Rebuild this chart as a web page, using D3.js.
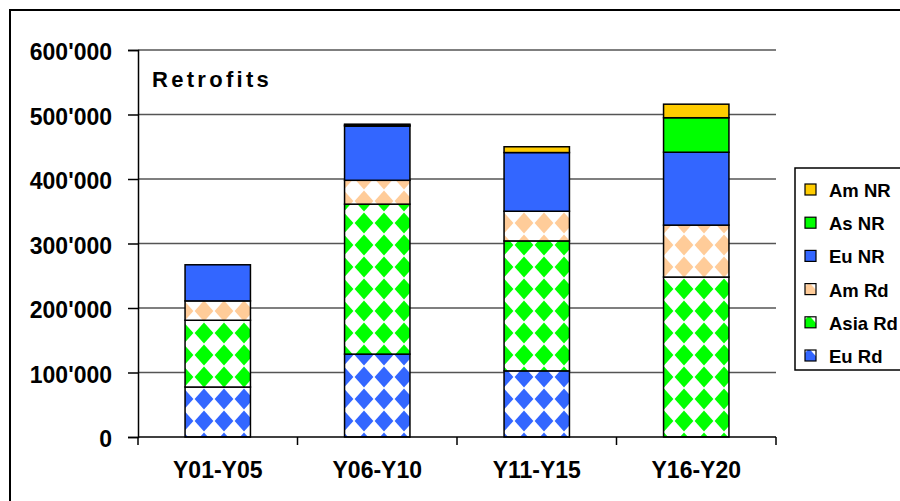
<!DOCTYPE html>
<html>
<head>
<meta charset="utf-8">
<script src="https://cdn.jsdelivr.net/npm/d3@7/dist/d3.min.js"></script>
<style>
  body { margin: 0; background: #fff; }
  svg text { font-family: "Liberation Sans", Arial, sans-serif; font-weight: bold; fill: #000; }
</style>
</head>
<body>
<div id="chart"></div>
<script>
// data
var periods = ["Y01-Y05", "Y06-Y10", "Y11-Y15", "Y16-Y20"];
var euRd   = [77500, 128500, 102500, 0];
var asiaRd = [103500, 232500, 201500, 248000];
var amRd   = [30000, 37000, 46000, 80500];
var euNR   = [56000, 84000, 91000, 113000];
var asNR   = [0, 1500, 0, 53500];
var amNR   = [0, 1500, 9000, 21000];
var yTicks = [0, 100000, 200000, 300000, 400000, 500000, 600000];

// bottom to top
var series = [
  {name: "Eu Rd",   values: euRd,   color: "#3366ff", pattern: true},
  {name: "Asia Rd", values: asiaRd, color: "#00ff00", pattern: true},
  {name: "Am Rd",   values: amRd,   color: "#ffcc99", pattern: true},
  {name: "Eu NR",   values: euNR,   color: "#3366ff", pattern: false},
  {name: "As NR",   values: asNR,   color: "#00ff00", pattern: false},
  {name: "Am NR",   values: amNR,   color: "#ffcc00", pattern: false}
];

var width = 900, height = 501;
var plot = {left: 138, right: 776, top: 50, bottom: 437};

var svg = d3.select('#chart')
  .append('svg')
  .attr('width', width)
  .attr('height', height);

// solid diamond (checkerboard turned 45deg) patterns for the "Rd" series
var defs = svg.append('defs');
series.forEach(function(s, i) {
  if (!s.pattern) return;
  var pw = 20, ph = 22;
  var pat = defs.append('pattern')
    .attr('id', 'pat' + i)
    .attr('patternUnits', 'userSpaceOnUse')
    .attr('x', 4).attr('y', 3)
    .attr('width', pw)
    .attr('height', ph);
  pat.append('rect').attr('width', pw).attr('height', ph).attr('fill', '#fff');
  var hx = 9.4, hy = 10.4;
  [[0, 0], [pw, 0], [0, ph], [pw, ph]].forEach(function(c) {
    pat.append('path')
      .attr('d', 'M' + (c[0] - hx) + ',' + c[1] + 'L' + c[0] + ',' + (c[1] - hy) +
                 'L' + (c[0] + hx) + ',' + c[1] + 'L' + c[0] + ',' + (c[1] + hy) + 'Z')
      .attr('fill', s.color);
  });
});
function fillOf(s) {
  return s.pattern ? 'url(#pat' + series.indexOf(s) + ')' : s.color;
}

// outer frame
svg.append('rect')
  .attr('x', 10).attr('y', 10)
  .attr('width', 900).attr('height', 510)
  .attr('fill', 'none')
  .attr('stroke', '#000')
  .attr('stroke-width', 2);

var scaleX = d3.scaleBand()
  .domain(periods)
  .range([plot.left, plot.right])
  .paddingInner(0.59)
  .paddingOuter(0.295);

var scaleY = d3.scaleLinear()
  .domain([0, 600000])
  .range([plot.bottom, plot.top]);

// gridlines
svg.append('g')
  .selectAll('line')
  .data(yTicks.filter(function(d) { return d > 0; }))
  .enter()
  .append('line')
  .attr('x1', plot.left).attr('x2', plot.right)
  .attr('y1', function(d) { return scaleY(d); })
  .attr('y2', function(d) { return scaleY(d); })
  .attr('stroke', '#555')
  .attr('stroke-width', 1.5);

// stacked bars
var table = periods.map(function(p, j) {
  var row = {period: p};
  series.forEach(function(s) { row[s.name] = s.values[j]; });
  return row;
});
var stack = d3.stack().keys(series.map(function(s) { return s.name; }))(table);

svg.append('g')
  .selectAll('g')
  .data(stack)
  .enter()
  .append('g')
  .attr('fill', function(d, i) { return fillOf(series[i]); })
  .selectAll('rect')
  .data(function(d) { return d.filter(function(v) { return v[1] - v[0] > 0; }); })
  .enter()
  .append('rect')
  .attr('x', function(d) { return scaleX(d.data.period); })
  .attr('y', function(d) { return scaleY(d[1]); })
  .attr('width', scaleX.bandwidth())
  .attr('height', function(d) { return scaleY(d[0]) - scaleY(d[1]); })
  .attr('stroke', '#000')
  .attr('stroke-width', 1.5);

// y axis
var yAxis = d3.axisLeft(scaleY)
  .tickValues(yTicks)
  .tickSize(10)
  .tickPadding(16)
  .tickFormat(function(d) { return d3.format(',')(d).replace(/,/g, "'"); });
var gy = svg.append('g')
  .attr('transform', 'translate(' + plot.left + ',0)')
  .call(yAxis);
gy.select('.domain').attr('stroke', '#000').attr('stroke-width', 1.5);
gy.selectAll('.tick line').attr('stroke', '#000').attr('stroke-width', 1.5);
gy.selectAll('.tick text')
  .style('font-size', '23px')
  .attr('dy', '0.42em');

// x axis with ticks at category boundaries
var gx = svg.append('g')
  .attr('transform', 'translate(0,' + plot.bottom + ')');
var xAxis = d3.axisBottom(scaleX).tickSize(0).tickPadding(20);
gx.call(xAxis);
gx.select('.domain').remove();
gx.append('line')
  .attr('x1', plot.left).attr('x2', plot.right)
  .attr('stroke', '#000').attr('stroke-width', 1.5);
var step = scaleX.step();
gx.selectAll('.boundary')
  .data(d3.range(periods.length + 1))
  .enter()
  .append('line')
  .attr('class', 'boundary')
  .attr('x1', function(i) { return plot.left + i * step; })
  .attr('x2', function(i) { return plot.left + i * step; })
  .attr('y1', 0).attr('y2', 8)
  .attr('stroke', '#000').attr('stroke-width', 1.5);
gx.selectAll('.tick text')
  .style('font-size', '23px')
  .attr('dy', '0.9em');

// title
svg.append('text')
  .attr('x', 152).attr('y', 87)
  .style('font-size', '22px')
  .style('letter-spacing', '3.3px')
  .text('Retrofits');

// legend
var legend = svg.append('g');
legend.append('rect')
  .attr('x', 795).attr('y', 168)
  .attr('width', 120).attr('height', 202)
  .attr('fill', '#fff')
  .attr('stroke', '#000')
  .attr('stroke-width', 1.5);
var items = legend.selectAll('g.item')
  .data(series.slice().reverse())
  .enter()
  .append('g')
  .attr('class', 'item')
  .attr('transform', function(d, i) { return 'translate(805,' + (190 + i * 33.2) + ')'; });
items.append('rect')
  .attr('x', 0).attr('y', -6)
  .attr('width', 11).attr('height', 11)
  .attr('fill', function(d) { return fillOf(d); })
  .attr('stroke', '#000')
  .attr('stroke-width', 1.2);
items.append('text')
  .attr('x', 24).attr('y', 7)
  .style('font-size', '18.5px')
  .text(function(d) { return d.name; });
</script>
</body>
</html>
